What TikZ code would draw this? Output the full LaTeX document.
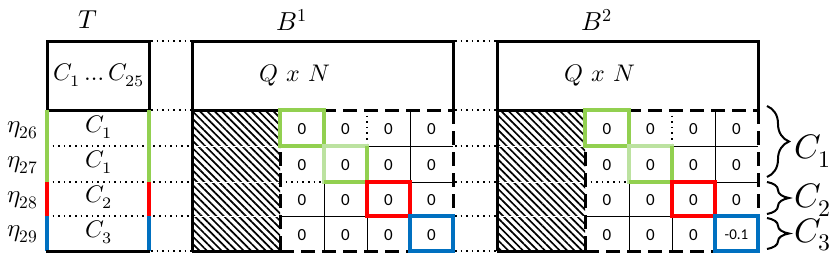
\documentclass[tikz,border=0pt]{standalone}
\usepackage{fontspec}
\usepackage{unicode-math}
\setmathfont{Latin Modern Math}
\newfontfamily\cellfont{Carlito}
\usetikzlibrary{patterns.meta,decorations.pathreplacing}
\definecolor{cgreen}{HTML}{92D050}
\definecolor{clgreen}{HTML}{BCE2A0}
\definecolor{cred}{HTML}{FF0000}
\definecolor{cblue}{HTML}{0070C0}
\tikzset{
  thickblk/.style={line width=1.5pt, black},
  gridline/.style={line width=0.5pt, black},
  dotline/.style={line width=0.8pt, black, dash pattern=on 0.8pt off 2pt},
  dashblk/.style={line width=1.5pt, black, dash pattern=on 7pt off 3.5pt},
  cbox/.style={line width=2pt},
  sidebar/.style={line width=2pt},
  txt/.style={inner sep=0pt, font=\fontsize{12}{14}\selectfont},
  etal/.style={inner sep=0pt, font=\fontsize{12.5}{14}\selectfont},
  lbl/.style={inner sep=0pt, font=\fontsize{13}{15}\selectfont},
  bigl/.style={inner sep=0pt, font=\fontsize{17}{19}\selectfont},
  cell/.style={inner sep=0pt, font=\cellfont\fontsize{8.5}{10}\selectfont},
  smallcell/.style={inner sep=0pt, font=\cellfont\fontsize{7.5}{9}\selectfont},
  bracestyle/.style={line width=1pt, decorate, decoration={brace, amplitude=11pt}},
  hatch/.style={pattern={Lines[angle=-45,distance=2.6pt,line width=0.85pt]}},
}
% #1 name, #2 x shift, #3 style of last cell, #4 text of last cell, #5 superscript
\newcommand\bblock[5]{%
\begin{scope}[shift={(#2,0)}]
  \node[lbl] (#1-lab) at (292,20) {$B^{#5}$};
  \node[txt] (#1-hdr) at (295,75) {$Q\ x\ N$};
  \fill[hatch] (192,110) rectangle (280,251);
  \foreach \yy in {146,182,216} \draw[white, line width=0.5pt] (192,\yy) -- (280,\yy);
  \draw[thickblk] (192,251) -- (192,41) -- (453,41) -- (453,110);
  \draw[thickblk] (192,110) -- (280,110);
  \draw[thickblk] (192,251) -- (280,251);
  \draw[dashblk] (280,110) -- (453,110);
  \draw[dashblk] (453,110) -- (453,251);
  \draw[dashblk] (280,251) -- (453,251);
  \draw[dashblk] (280,110) -- (280,251);
  \draw[gridline] (410,110) -- (410,182);
  \draw[dotline] (367,110) -- (367,146);
  \draw[gridline] (367,146) -- (453,146);
  \draw[dotline] (280,182) -- (324,182);
  \draw[gridline] (410,182) -- (453,182);
  \draw[gridline] (324,182) -- (324,251);
  \draw[gridline] (280,216) -- (367,216);
  \draw[gridline] (367,216) -- (367,251);
  \draw[cbox, cgreen] (280,110) rectangle (324,146);
  \draw[cbox, clgreen] (324,146) rectangle (367,182);
  \draw[cbox, cgreen] (324,182) -- (367,182) -- (367,146);
  \draw[cbox, cred] (367,182) rectangle (410,216);
  \draw[cbox, cblue] (410,216) rectangle (453,251);
  \foreach \r/\yy in {1/129.5,2/165,3/200}
    \foreach \c/\xx in {1/302,2/345.5,3/388.5,4/431.5}
      {\node[cell] (#1-\r-\c) at (\xx,\yy) {0};}
  \foreach \c/\xx in {1/302,2/345.5,3/388.5}
      {\node[cell] (#1-4-\c) at (\xx,235) {0};}
  \node[#3] (#1-4-4) at (431.5,235) {#4};
\end{scope}}
\begin{document}
\begin{tikzpicture}[x=0.5pt, y=-0.5pt]
  \useasboundingbox (0,0) rectangle (832,257);
  % ---- T block ----
  \node[lbl] (tlab) at (88,20) {$T$};
  \draw[thickblk] (47,41) rectangle (149,110);
  \node[txt] (thdr) at (99,75) {$C_1 \ldots C_{25}$};
  \foreach \yy in {146,182,216} \draw[dotline] (47,\yy) -- (192,\yy);
  \draw[sidebar, cgreen] (47,110) -- (47,182);
  \draw[sidebar, cred] (47,182) -- (47,216);
  \draw[sidebar, cblue] (47,216) -- (47,251);
  \draw[sidebar, cgreen] (149,110) -- (149,182);
  \draw[sidebar, cred] (149,182) -- (149,216);
  \draw[sidebar, cblue] (149,216) -- (149,251);
  \draw[thickblk] (46,251) -- (150,251);
  \node[txt] (tr1) at (99,127) {$C_1$};
  \node[txt] (tr2) at (99,162) {$C_1$};
  \node[txt] (tr3) at (99,197) {$C_2$};
  \node[txt] (tr4) at (99,232) {$C_3$};
  \node[etal] (eta26) at (23,130) {$\eta_{26}$};
  \node[etal] (eta27) at (23,165) {$\eta_{27}$};
  \node[etal] (eta28) at (23,200) {$\eta_{28}$};
  \node[etal] (eta29) at (23,234) {$\eta_{29}$};
  % ---- dotted links ----
  \foreach \yy in {41,110,251} {
    \draw[dotline] (151,\yy) -- (192,\yy);
    \draw[dotline] (455,\yy) -- (497,\yy);
  }
  \foreach \yy in {146,182,216} \draw[dotline] (455,\yy) -- (497,\yy);
  % ---- B blocks ----
  \bblock{ba}{0}{cell}{0}{1}
  \bblock{bb}{305}{smallcell}{-0.1}{2}
  % ---- braces ----
  \coordinate (br1a) at (767,106);
  \coordinate (br1b) at (767,177);
  \coordinate (br2a) at (767,182);
  \coordinate (br2b) at (767,214);
  \coordinate (br3a) at (767,218);
  \coordinate (br3b) at (767,249);
  \draw[bracestyle] (br1a) -- (br1b);
  \draw[bracestyle] (br2a) -- (br2b);
  \draw[bracestyle] (br3a) -- (br3b);
  \node[bigl] (g1) at (813,151) {$C_1$};
  \node[bigl] (g2) at (813,200) {$C_2$};
  \node[bigl] (g3) at (813,235) {$C_3$};
\end{tikzpicture}
\end{document}
